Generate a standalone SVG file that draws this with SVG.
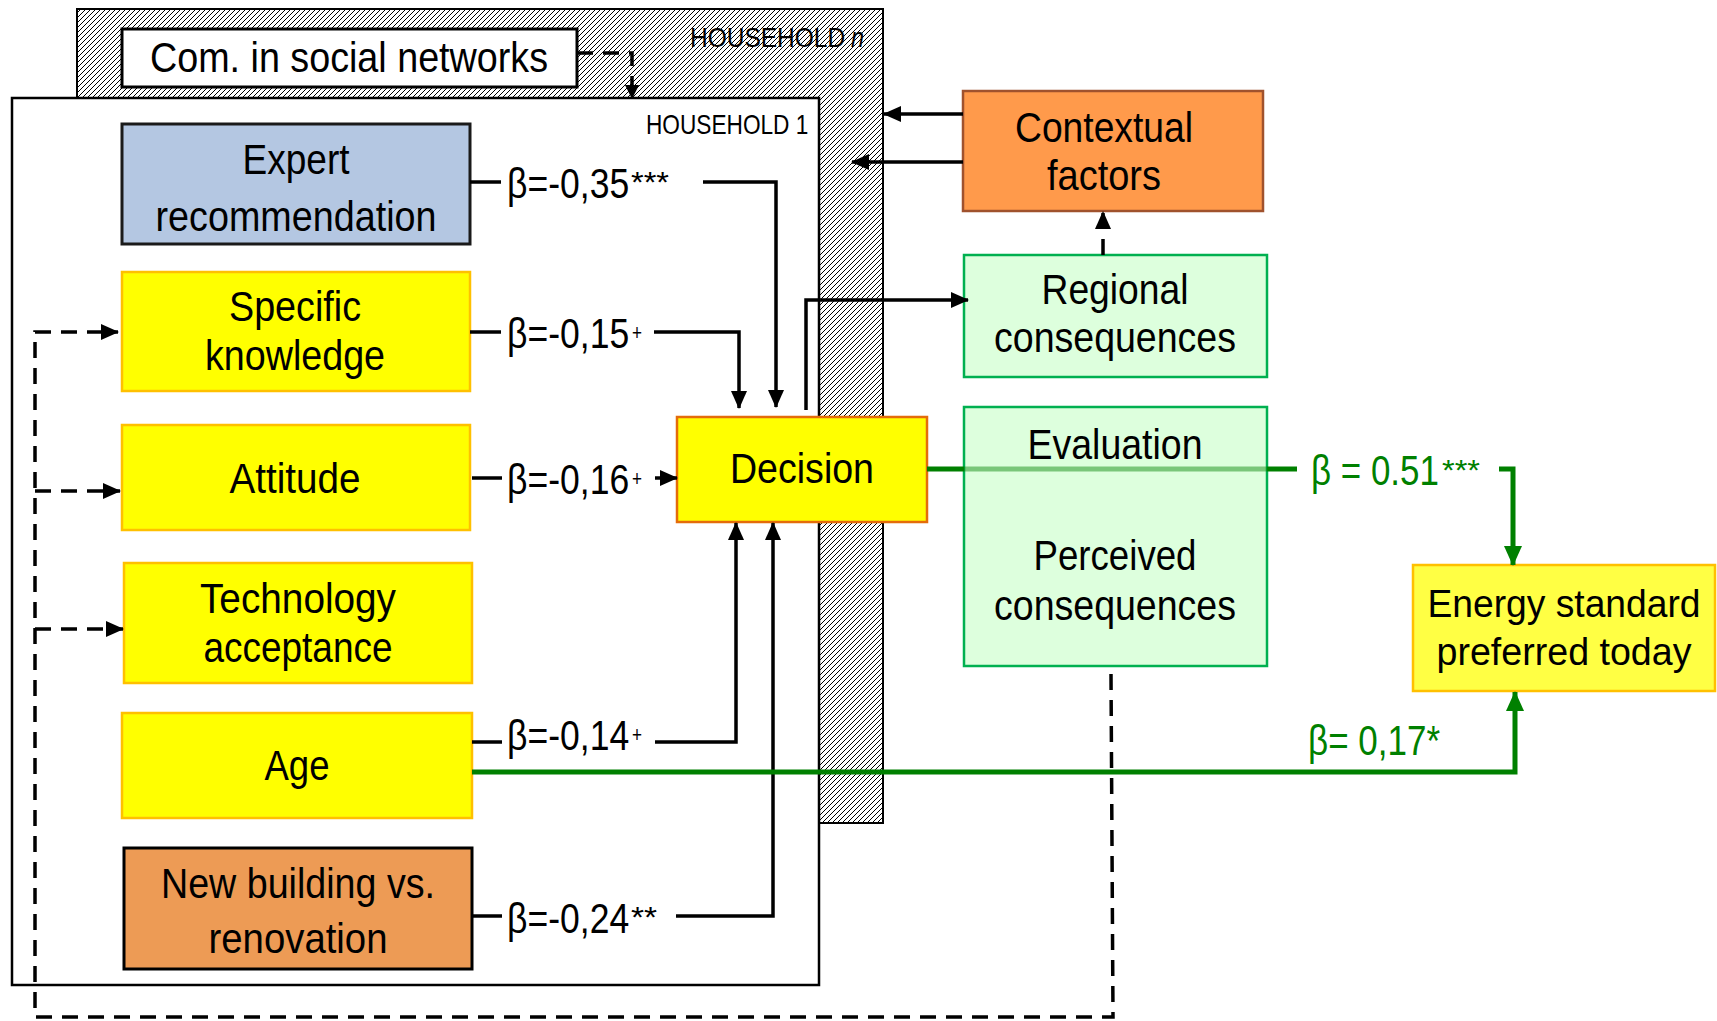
<svg xmlns="http://www.w3.org/2000/svg" width="1717" height="1021" viewBox="0 0 1717 1021">
<style>
text{font-family:"Liberation Sans Narrow","Arial Narrow","Liberation Sans",sans-serif;fill:#000;}
.t{font-size:43px;text-anchor:middle;}
.lbl{font-size:43px;}
.plus{font-size:22px;}
.ast{font-size:30px;}
.g{fill:#008000;}
.hh{font-size:27px;}
.blk{fill:none;stroke:#000;stroke-width:3.5;}
.dash{fill:none;stroke:#000;stroke-width:3.5;stroke-dasharray:16 10;}
.grn{fill:none;stroke:#008000;stroke-width:5;}
.yel{fill:#ffff00;stroke:#ffc000;stroke-width:2.5;}
.grnbox{fill:#ddffdd;stroke:#00b050;stroke-width:2.5;}
</style>
<defs>
<pattern id="hatch" patternUnits="userSpaceOnUse" width="5" height="5">
<rect width="5" height="5" fill="#fff"/>
<path d="M-1,1 L1,-1 M0,5 L5,0 M4,6 L6,4" stroke="#000" stroke-width="1"/>
</pattern>
<marker id="ah" markerUnits="userSpaceOnUse" markerWidth="18" markerHeight="16" refX="17" refY="8" orient="auto">
<path d="M0,0 L18,8 L0,16 z" fill="#000"/>
</marker>
<marker id="ahs" markerUnits="userSpaceOnUse" markerWidth="14" markerHeight="14" refX="13" refY="7" orient="auto">
<path d="M0,0 L14,7 L0,14 z" fill="#000"/>
</marker>
<marker id="ahg" markerUnits="userSpaceOnUse" markerWidth="20" markerHeight="18" refX="19" refY="9" orient="auto">
<path d="M0,0 L20,9 L0,18 z" fill="#008000"/>
</marker>
</defs>
<rect width="1717" height="1021" fill="#fff"/>

<g id="household-n">
<rect x="77" y="9" width="806" height="814" fill="url(#hatch)" stroke="#000" stroke-width="2"/>
<text class="hh" transform="translate(690,47) scale(0.8,1)" textLength="194" lengthAdjust="spacingAndGlyphs">HOUSEHOLD</text>
<text class="hh" x="851" y="47" font-style="italic" textLength="13" lengthAdjust="spacingAndGlyphs">n</text>
</g>
<g id="household-1">
<rect x="12" y="98" width="807" height="887" fill="#fff" stroke="#000" stroke-width="2.5"/>
<text class="hh" transform="translate(646,134) scale(0.82,1)" textLength="198" lengthAdjust="spacingAndGlyphs">HOUSEHOLD 1</text>
</g>

<g id="com-social-networks">
<rect x="122" y="29" width="455" height="58" fill="#fff" stroke="#000" stroke-width="3"/>
<text class="t" x="349" y="72" textLength="398" lengthAdjust="spacingAndGlyphs">Com. in social networks</text>
</g>

<g id="expert">
<rect x="122" y="124" width="348" height="120" fill="#b4c7e2" stroke="#1a1a1a" stroke-width="3"/>
<text class="t" x="296" y="174" textLength="107" lengthAdjust="spacingAndGlyphs">Expert</text>
<text class="t" x="296" y="231" textLength="281" lengthAdjust="spacingAndGlyphs">recommendation</text>
</g>
<g id="specific-knowledge">
<rect class="yel" x="122" y="272" width="348" height="119"/>
<text class="t" x="295" y="321" textLength="132" lengthAdjust="spacingAndGlyphs">Specific</text>
<text class="t" x="295" y="370" textLength="180" lengthAdjust="spacingAndGlyphs">knowledge</text>
</g>
<g id="attitude">
<rect class="yel" x="122" y="425" width="348" height="105"/>
<text class="t" x="295" y="493" textLength="131" lengthAdjust="spacingAndGlyphs">Attitude</text>
</g>
<g id="technology-acceptance">
<rect class="yel" x="124" y="563" width="348" height="120"/>
<text class="t" x="298" y="613" textLength="196" lengthAdjust="spacingAndGlyphs">Technology</text>
<text class="t" x="298" y="662" textLength="189" lengthAdjust="spacingAndGlyphs">acceptance</text>
</g>
<g id="age">
<rect class="yel" x="122" y="713" width="350" height="105"/>
<text class="t" x="297" y="780" textLength="65" lengthAdjust="spacingAndGlyphs">Age</text>
</g>
<g id="new-building">
<rect x="124" y="848" width="348" height="121" fill="#ed9b55" stroke="#000" stroke-width="3"/>
<text class="t" x="298" y="898" textLength="274" lengthAdjust="spacingAndGlyphs">New building vs.</text>
<text class="t" x="298" y="953" textLength="179" lengthAdjust="spacingAndGlyphs">renovation</text>
</g>
<g id="decision">
<rect x="677" y="417" width="250" height="105" fill="#ffff00" stroke="#e46c0a" stroke-width="2.5"/>
<text class="t" x="802" y="483" textLength="144" lengthAdjust="spacingAndGlyphs">Decision</text>
</g>
<g id="contextual-factors">
<rect x="963" y="91" width="300" height="120" fill="#ff9a4b" stroke="#a0522d" stroke-width="2.5"/>
<text class="t" x="1104" y="142" textLength="178" lengthAdjust="spacingAndGlyphs">Contextual</text>
<text class="t" x="1104" y="190" textLength="114" lengthAdjust="spacingAndGlyphs">factors</text>
</g>
<g id="regional-consequences">
<rect class="grnbox" x="964" y="255" width="303" height="122"/>
<text class="t" x="1115" y="304" textLength="147" lengthAdjust="spacingAndGlyphs">Regional</text>
<text class="t" x="1115" y="352" textLength="242" lengthAdjust="spacingAndGlyphs">consequences</text>
</g>
<g id="perceived-consequences">
<rect class="grnbox" x="964" y="407" width="303" height="259"/>
<text class="t" x="1115" y="459" textLength="175" lengthAdjust="spacingAndGlyphs">Evaluation</text>
<text class="t" x="1115" y="570" textLength="163" lengthAdjust="spacingAndGlyphs">Perceived</text>
<text class="t" x="1115" y="620" textLength="242" lengthAdjust="spacingAndGlyphs">consequences</text>
</g>
<g id="energy-standard">
<rect x="1413" y="565" width="302" height="126" fill="#ffff44" stroke="#ffc000" stroke-width="2.5"/>
<text class="t" x="1564" y="617" style="font-size:38px" textLength="273" lengthAdjust="spacingAndGlyphs">Energy standard</text>
<text class="t" x="1564" y="665" style="font-size:38px" textLength="255" lengthAdjust="spacingAndGlyphs">preferred today</text>
</g>

<g id="connectors">
<path class="dash" d="M577,53 L632,53 L632,98" marker-end="url(#ahs)"/>
<path class="blk" d="M470,182 L501,182"/>
<path class="blk" d="M703,182 L776,182 L776,407" marker-end="url(#ah)"/>
<text class="lbl" transform="translate(507,198) scale(0.82,1)" textLength="149" lengthAdjust="spacingAndGlyphs">β=-0,35</text>
<text class="ast" x="631" y="192" textLength="38" lengthAdjust="spacingAndGlyphs">***</text>
<path class="blk" d="M470,332 L501,332"/>
<path class="blk" d="M654,332 L739,332 L739,408" marker-end="url(#ah)"/>
<text class="lbl" transform="translate(507,348) scale(0.82,1)" textLength="149" lengthAdjust="spacingAndGlyphs">β=-0,15</text>
<text class="plus" x="632" y="340" textLength="10" lengthAdjust="spacingAndGlyphs">+</text>
<path class="blk" d="M472,478 L502,478"/>
<path class="blk" d="M655,478 L677,478" marker-end="url(#ah)"/>
<text class="lbl" transform="translate(507,494) scale(0.82,1)" textLength="149" lengthAdjust="spacingAndGlyphs">β=-0,16</text>
<text class="plus" x="632" y="486" textLength="10" lengthAdjust="spacingAndGlyphs">+</text>
<path class="blk" d="M472,742 L502,742"/>
<path class="blk" d="M655,742 L736,742 L736,523" marker-end="url(#ah)"/>
<text class="lbl" transform="translate(507,750) scale(0.82,1)" textLength="149" lengthAdjust="spacingAndGlyphs">β=-0,14</text>
<text class="plus" x="632" y="742" textLength="10" lengthAdjust="spacingAndGlyphs">+</text>
<path class="blk" d="M472,916 L502,916"/>
<path class="blk" d="M676,916 L773,916 L773,523" marker-end="url(#ah)"/>
<text class="lbl" transform="translate(507,933) scale(0.82,1)" textLength="149" lengthAdjust="spacingAndGlyphs">β=-0,24</text>
<text class="ast" x="631" y="927" textLength="26" lengthAdjust="spacingAndGlyphs">**</text>
<path class="blk" d="M806,410 L806,300 L968,300" marker-end="url(#ah)"/>
<path class="blk" d="M963,114 L884,114" marker-end="url(#ah)"/>
<path class="blk" d="M963,162 L852,162" marker-end="url(#ah)"/>
<path class="dash" d="M1103,255 L1103,212" marker-end="url(#ah)"/>
<path class="dash" d="M1111,674 L1113,1017 L35,1017 L35,332 L118,332" marker-end="url(#ah)"/>
<path class="dash" d="M35,491 L120,491" marker-end="url(#ah)"/>
<path class="dash" d="M35,629 L123,629" marker-end="url(#ah)"/>
<path class="grn" d="M927,469 L964,469"/>
<path d="M964,469 L1267,469" stroke="#008000" stroke-width="5" stroke-opacity="0.45" fill="none"/>
<path class="grn" d="M1267,469 L1297,469"/>
<path class="grn" d="M1499,469 L1513,469 L1513,565" marker-end="url(#ahg)"/>
<text class="lbl g" transform="translate(1311,485) scale(0.82,1)" textLength="156" lengthAdjust="spacingAndGlyphs">β = 0.51</text>
<text class="ast g" x="1442" y="480" textLength="38" lengthAdjust="spacingAndGlyphs">***</text>
<path class="grn" d="M472,772 L1515,772 L1515,692" marker-end="url(#ahg)"/>
<text class="lbl g" transform="translate(1308,755) scale(0.82,1)" textLength="161" lengthAdjust="spacingAndGlyphs">β= 0,17*</text>
</g>
</svg>
